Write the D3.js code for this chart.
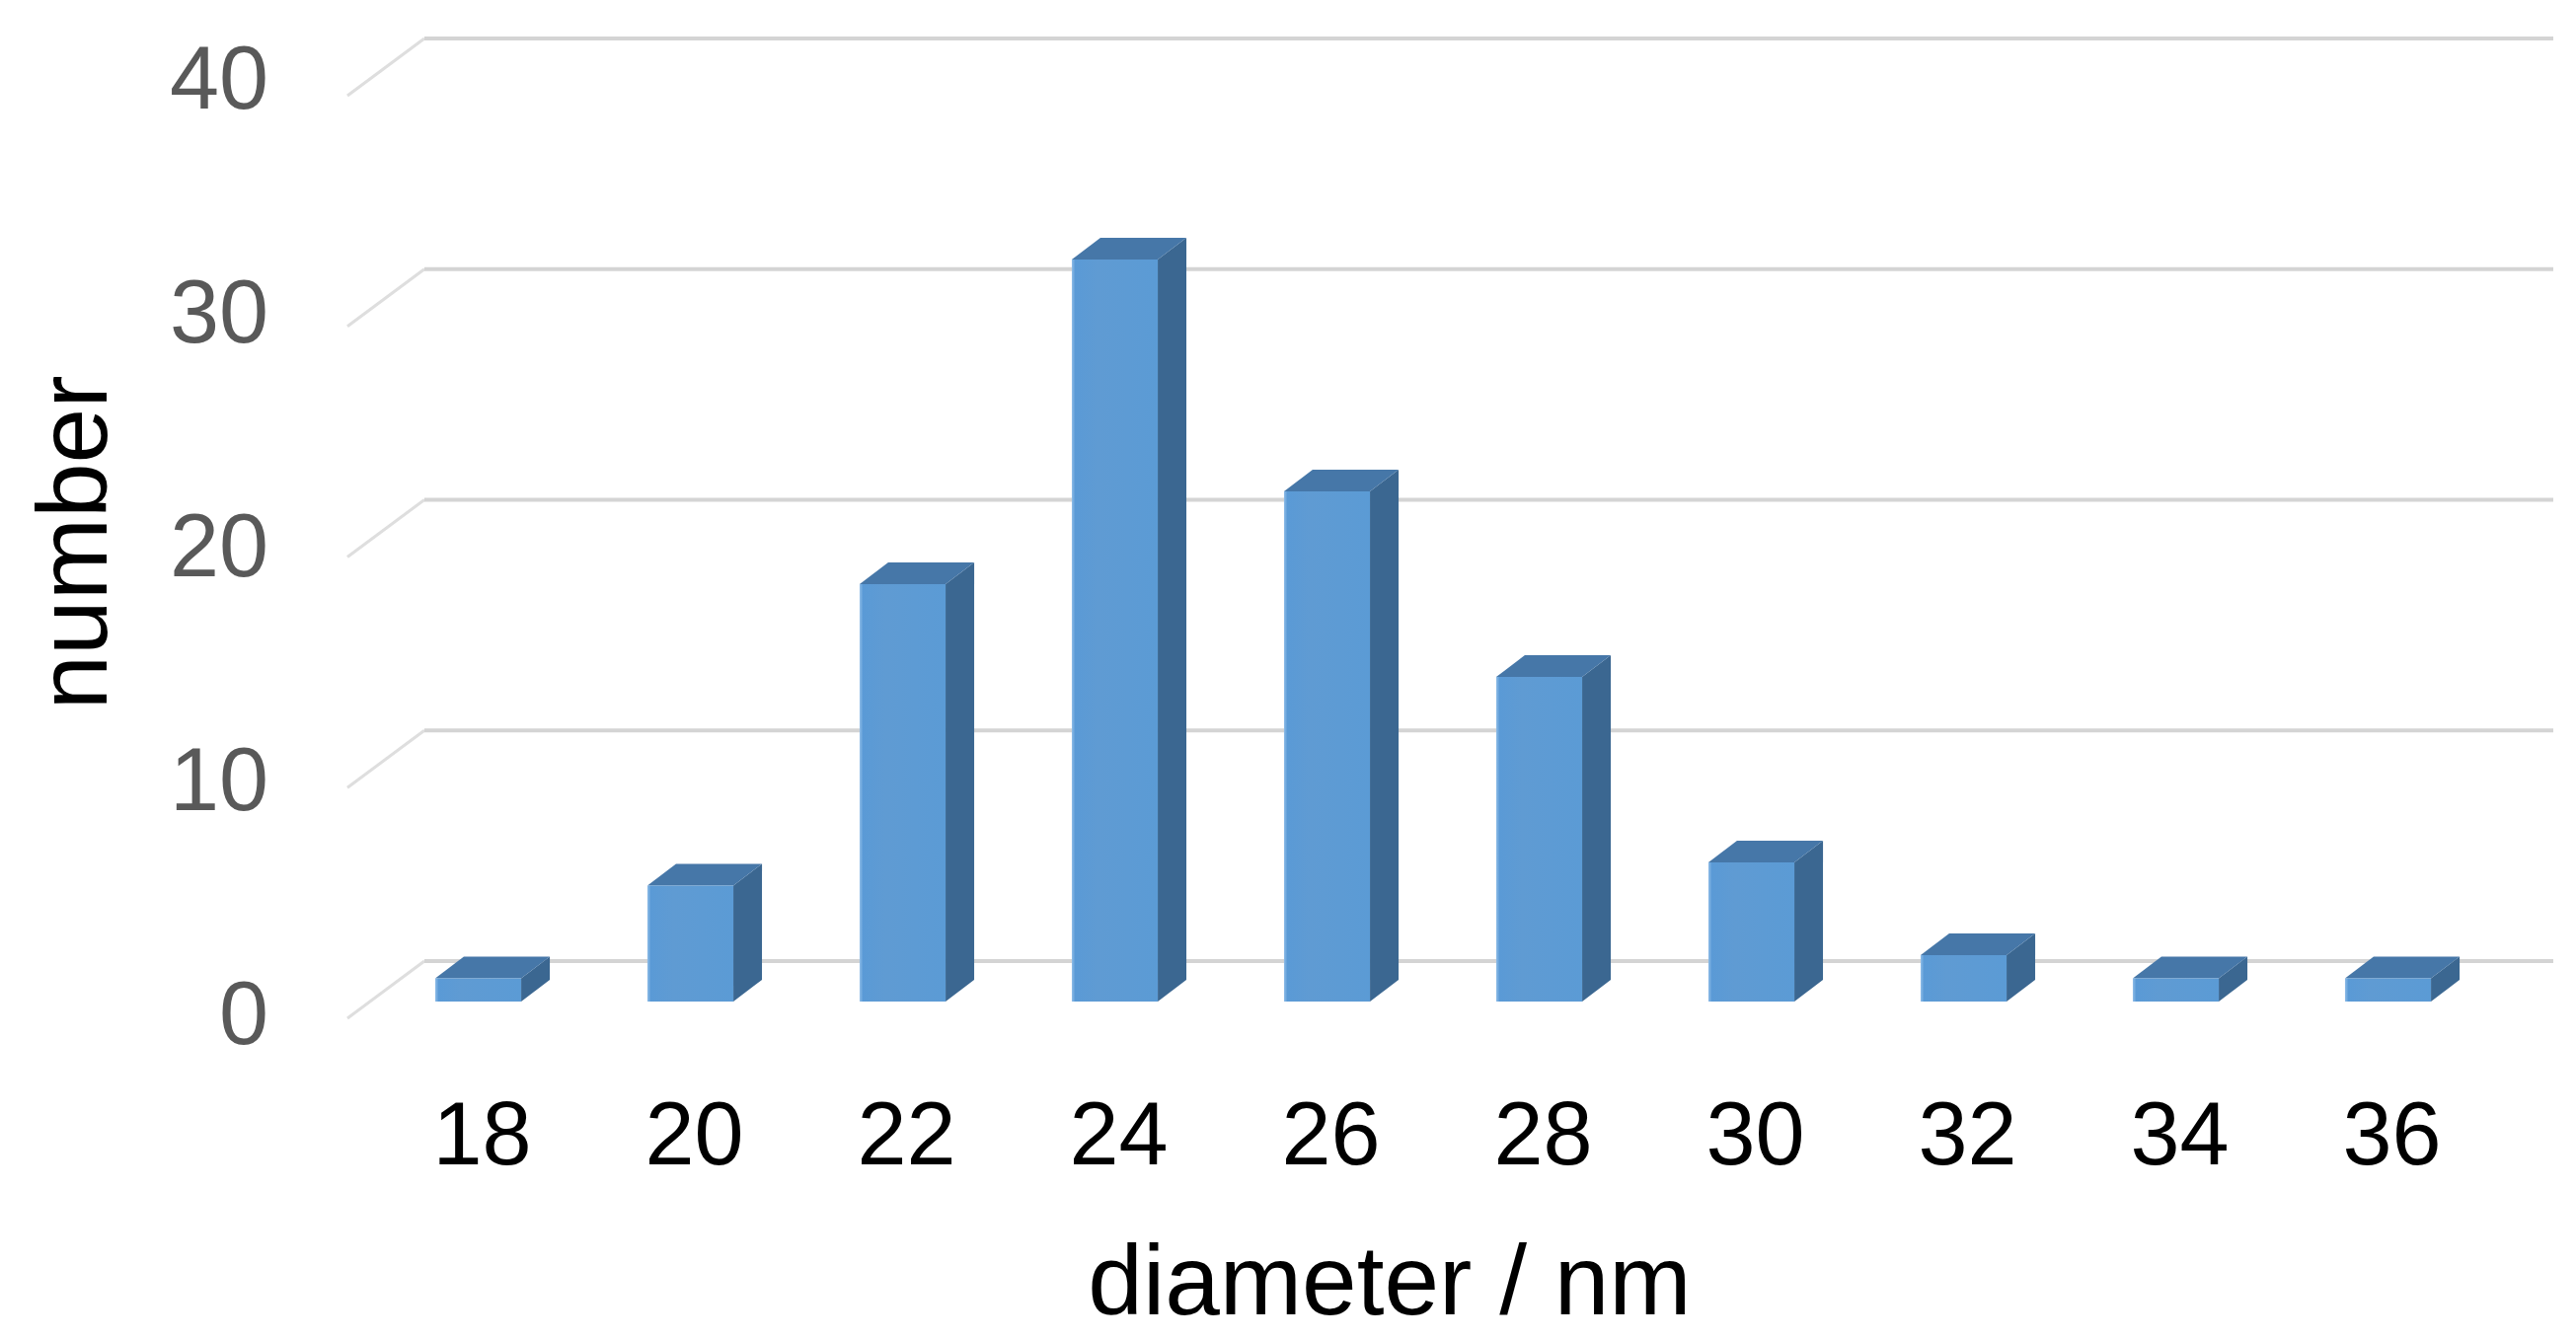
<!DOCTYPE html>
<html>
<head>
<meta charset="utf-8">
<script src="https://cdn.jsdelivr.net/npm/d3@7"></script>
<style>
  html,body{margin:0;padding:0;background:#fff;}
  svg{display:block;font-family:"Liberation Sans", Arial, sans-serif;}
</style>
</head>
<body>
<div id="chart"></div>
<script>
// particle size histogram, Excel-style 3D columns
const sizes  = ['18','20','22','24','26','28','30','32','34','36'];
const counts = [1, 5, 18, 32, 22, 14, 6, 2, 1, 1];
const yTicks = [0, 10, 20, 30, 40];
const xTitle = 'diameter / nm';
const yTitle = 'number';

const W = 2610, H = 1357;
const DX = 29, DY = -22;          // column depth offset
const wallL = 430, wallR = 2587;  // back wall
const frontL = 352, diagDy = 58;  // floor / grid diagonal

const svg = d3.select('#chart').append('svg').attr('width', W).attr('height', H);

const x = d3.scaleBand().domain(sizes).range([377, 2527]).paddingInner(0.595).paddingOuter(0.2975);
const yFront = d3.scaleLinear().domain([0, 40]).range([1015, 75]);
const yBack  = d3.scaleLinear().domain([0, 40]).range([974, 39]);
const yLab   = d3.scaleLinear().domain([0, 40]).range([1029, 81]);

// gridlines with the side-wall diagonal
svg.append('g').selectAll('path').data(yTicks).join('path')
  .attr('d', v => `M${frontL},${yBack(v)+diagDy} L${wallL},${yBack(v)}`)
  .attr('fill','none').attr('stroke','#dedede').attr('stroke-width',3);
svg.append('g').selectAll('line').data(yTicks).join('line')
  .attr('x1', wallL).attr('x2', wallR)
  .attr('y1', v => yBack(v)).attr('y2', v => yBack(v))
  .attr('stroke','#d4d4d4').attr('stroke-width',4);

// columns
const defs = svg.append('defs');
const gr = defs.append('linearGradient').attr('id','front').attr('x1','0').attr('x2','1');
gr.append('stop').attr('offset','0').attr('stop-color','#8fbde8');
gr.append('stop').attr('offset','0.04').attr('stop-color','#5a9ad6');
gr.append('stop').attr('offset','0.3').attr('stop-color','#5f9bd3');
gr.append('stop').attr('offset','1').attr('stop-color','#5b9bd5');

const data = sizes.map((s, i) => ({s, v: counts[i]}));
const bw = x.bandwidth();
const bars = svg.append('g').selectAll('g').data(data).join('g');
bars.append('path') // side
  .attr('d', d => { const x1 = x(d.s)+bw, yt = yFront(d.v), yb = yFront(0);
    return `M${x1},${yt} L${x1+DX},${yt+DY} L${x1+DX},${yb+DY} L${x1},${yb} Z`; })
  .attr('fill','#3b6791');
bars.append('path') // top
  .attr('d', d => { const x0 = x(d.s), x1 = x0+bw, yt = yFront(d.v);
    return `M${x0},${yt} L${x0+DX},${yt+DY} L${x1+DX},${yt+DY} L${x1},${yt} Z`; })
  .attr('fill','#4677a8');
bars.append('rect') // front
  .attr('x', d => x(d.s)).attr('y', d => yFront(d.v))
  .attr('width', bw).attr('height', d => yFront(0) - yFront(d.v))
  .attr('fill','url(#front)');

// axes
const xAxis = svg.append('g').attr('transform','translate(4,1116)')
  .call(d3.axisBottom(x).tickSize(0).tickPadding(0));
xAxis.select('.domain').remove();
xAxis.selectAll('text').attr('font-size',90).attr('fill','#000').attr('font-family','"Liberation Sans", Arial, sans-serif');

const yAxis = svg.append('g').attr('transform','translate(272,0)')
  .call(d3.axisLeft(yLab).tickValues(yTicks).tickSize(0).tickPadding(0));
yAxis.select('.domain').remove();
yAxis.selectAll('text').attr('font-size',90).attr('fill','#595959').attr('font-family','"Liberation Sans", Arial, sans-serif');

// titles
svg.append('text').attr('x',1408).attr('y',1332).attr('text-anchor','middle')
  .attr('font-size',100).attr('fill','#000').text(xTitle);
svg.append('text').attr('transform','translate(108,550) rotate(-90)').attr('text-anchor','middle')
  .attr('font-size',100).attr('fill','#000').text(yTitle);
</script>
</body>
</html>
